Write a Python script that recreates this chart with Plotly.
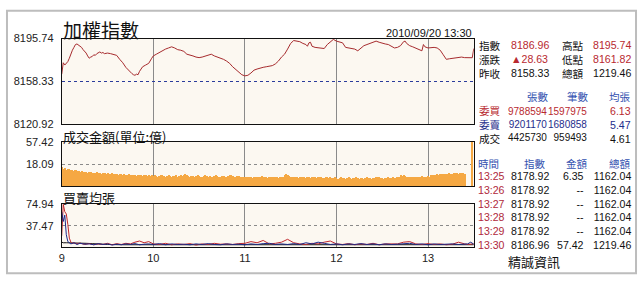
import plotly.graph_objects as go

# ---------------- data ----------------
TITLE = "加權指數"
DATE_TEXT = "2010/09/20 13:30"
VOL_TITLE = "成交金額(單位:億)"
AVG_TITLE = "買賣均張"
SOURCE = "精誠資訊"

PREV_CLOSE = 8158.33
IDX_AXIS = [8120.92, 8158.33, 8195.74]

# index: minutes after 09:00 and value
IDX_MIN = [0, 1, 2, 3, 4, 5, 6, 7, 8, 9, 10, 11, 12, 13, 14, 15, 16, 17, 18, 19,
           20, 21, 22, 23, 24, 25, 26, 27, 28, 30, 32, 34, 36, 38, 40, 42, 44, 46, 47, 48,
           49, 50, 51, 53, 55, 57, 59, 60, 62, 64, 66, 68, 70, 72, 74, 76, 78, 80, 82, 84,
           86, 88, 90, 92, 94, 96, 98, 100, 102, 104, 106, 108, 110, 112, 114, 116, 118, 120, 122, 124,
           126, 128, 130, 132, 134, 136, 138, 140, 142, 144, 146, 148, 150, 152, 154, 156, 158, 160, 161, 162,
           163, 164, 166, 168, 170, 172, 174, 176, 178, 180, 182, 184, 186, 188, 190, 192, 194, 196, 198, 200,
           202, 204, 206, 208, 210, 212, 214, 216, 218, 220, 222, 224, 225, 226, 228, 230, 232, 234, 236, 237,
           238, 240, 242, 244, 246, 248, 250, 252, 254, 256, 258, 260, 262, 264, 265, 269, 270]
IDX_VAL = [8164.5, 8174.5, 8172.5, 8174.0, 8175.5, 8178.5, 8182.5, 8185.5, 8188.0, 8190.5,
           8191.0, 8190.0, 8189.5, 8188.0, 8186.0, 8184.5, 8183.0, 8180.5, 8178.5, 8179.5,
           8180.0, 8181.5, 8181.0, 8182.5, 8183.0, 8184.0, 8183.0, 8183.5, 8182.5, 8183.0,
           8182.5, 8182.0, 8181.0, 8177.5, 8174.5, 8170.5, 8167.5, 8165.0, 8164.0, 8163.5,
           8164.5, 8164.0, 8167.0, 8171.0, 8172.5, 8174.0, 8178.5, 8180.5, 8182.0, 8183.5,
           8185.5, 8186.5, 8187.5, 8188.5, 8187.5, 8186.0, 8185.5, 8184.5, 8182.0, 8181.5,
           8180.5, 8179.5, 8179.0, 8179.5, 8180.5, 8181.5, 8182.0, 8180.5, 8179.5, 8179.0,
           8177.5, 8176.0, 8174.0, 8171.0, 8168.5, 8166.0, 8164.0, 8163.0, 8163.5, 8165.5,
           8168.0, 8169.0, 8170.0, 8170.5, 8171.0, 8171.5, 8172.0, 8173.5, 8176.0, 8179.5,
           8182.0, 8186.5, 8191.5, 8194.0, 8193.5, 8193.0, 8191.5, 8190.5, 8189.0, 8192.0,
           8192.5, 8189.0, 8188.0, 8187.5, 8187.5, 8187.0, 8190.5, 8193.0, 8195.0, 8193.5,
           8193.0, 8192.0, 8188.0, 8187.5, 8186.5, 8186.5, 8185.0, 8187.5, 8189.5, 8190.5,
           8191.5, 8192.5, 8193.5, 8192.5, 8191.5, 8191.0, 8190.5, 8189.0, 8187.5, 8188.0,
           8189.5, 8193.0, 8193.5, 8191.5, 8189.5, 8188.5, 8187.5, 8186.5, 8185.0, 8190.5,
           8188.5, 8187.5, 8188.0, 8188.0, 8187.5, 8185.5, 8181.5, 8177.5, 8178.0, 8178.5,
           8179.0, 8179.0, 8179.5, 8179.0, 8178.92, 8178.92, 8186.96]

# trade amount (億) per minute from 09:00 (minute index = position) up to 13:25
VOL_PER_MIN = [33,
    14, 12, 12.5, 11, 12, 11.5, 10.5, 11, 10, 10.5, 9.5, 10, 9, 9.5,
    9, 8.5, 9, 8, 8.5, 9, 8, 7.5, 8, 8.5, 7.5, 8, 7, 7.5, 8, 7, 7.5, 6.5, 7, 7.5, 6.5, 7, 6.5, 6, 6.5, 7,
    6, 6.5, 5.5, 6, 6.5, 5.5, 6, 5.5, 6, 5, 5.5, 6, 5.5, 5, 5.5, 6, 5, 5.5, 5, 5.5,
    5, 5.5, 5, 4.5, 5, 5.5, 6, 5, 4.5, 5, 5.5, 5, 4.5, 5, 5, 5.5, 4.5, 5, 5.5, 5,
    6, 6.5, 5.5, 5, 4.5, 5, 5, 4.5, 5, 5.5, 5, 4.5, 4.5, 5, 5.5, 5, 4.5, 5, 4.5, 4.5,
    5, 5.5, 5, 4.5, 4.5, 5, 5, 4.5, 4.5, 5, 5.5, 6, 5, 4.5, 4.5, 5, 5, 4.5,
    4.5, 4, 4.5, 4, 4, 4.5, 4, 3.5, 4, 4.5, 4, 4, 4.5, 5, 4.5, 4, 4, 3.5, 4, 4.5,
    4, 4.5, 4, 4, 3.5, 4, 4.5, 4, 5.5, 6.5, 6, 5, 4.5, 4, 4, 4.5, 4, 3.5, 4, 4,
    4.5, 4, 3.5, 4, 4, 3.5, 4, 4.5, 4, 3.5, 4, 4.5, 4, 3.5, 3.5, 4, 4, 3.5, 4,
    3.5, 3.5, 4, 3.5, 3, 3.5, 4, 3.5, 3.5, 3, 3.5, 4, 3.5, 3, 3.5, 3.5, 4, 3.5, 3, 3.5,
    3.5, 3, 3.5, 4, 3.5, 3.5, 3, 3.5, 3.5, 4, 4.5, 4, 3.5, 3.5, 3, 3.5, 3.5, 4, 3.5, 3.5,
    4, 3.5, 3.5, 4, 4.5,
    5.5, 5, 6, 5, 4.5, 4, 4.5, 4, 4.5, 4, 4, 4.5, 4, 4.5, 5, 4.5, 4, 4.5, 5, 4.5,
    5.5, 6, 5.5, 6, 6.5, 6, 6.5, 7, 6.5, 7, 6.5, 7, 7.5, 7, 7, 7.5, 8, 7.5, 7, 7.5, 8, 7.5, 6.35]
VOL_CLOSE_MIN = 270
VOL_CLOSE = 57.42
VOL_TICKS = [18.09, 57.42]
VOL_POWER = 0.6   # display scale of the amount panel

AVG_TICKS = [37.47, 74.94]
BUY_MIN = [0, 1, 2, 3, 4, 5, 6, 7, 8, 10, 12, 15, 18, 21, 24, 27, 30, 33, 36, 39,
           42, 45, 48, 51, 54, 57, 60, 64, 68, 72, 76, 80, 84, 88, 92, 96, 100, 104, 108, 112,
           116, 120, 124, 128, 132, 136, 140, 144, 148, 152, 156, 160, 164, 168, 172, 176, 180, 184, 188, 192,
           196, 200, 204, 208, 212, 216, 220, 224, 228, 232, 236, 240, 244, 248, 252, 256, 260, 264, 266, 270]
BUY_VAL = [20, 74.94, 62, 58, 40, 16, 9, 7, 8, 6, 7.5, 5, 6.5, 4.5, 6, 5, 7, 4.5, 6.5, 5,
           7, 6, 9, 11, 8, 10, 6, 5, 7, 4.5, 6, 5, 6.5, 4, 6, 5, 7, 5.5, 6, 5,
           6.5, 7, 10, 8, 12, 6, 7, 9, 14, 8, 6, 5, 7, 6, 9, 11, 6, 5, 6.5, 4.5,
           6, 5, 7, 4.5, 6, 5.5, 6, 9, 10, 6, 5, 6.5, 5, 6, 4.5, 5.5, 9, 6, 5, 6.13]
SELL_MIN = [0, 1, 2, 3, 4, 5, 6, 8, 10, 12, 15, 18, 21, 24, 27, 30, 33, 36, 39, 42,
            45, 48, 51, 54, 57, 60, 64, 68, 72, 76, 80, 84, 88, 92, 96, 100, 104, 108, 112, 116,
            120, 124, 128, 132, 136, 140, 144, 148, 152, 156, 160, 164, 168, 172, 176, 180, 184, 188, 192, 196,
            200, 204, 208, 212, 216, 220, 224, 228, 232, 236, 240, 244, 248, 252, 256, 260, 264, 266, 268, 270]
SELL_VAL = [62, 45, 56, 22, 10, 8, 6, 8, 5, 7, 5.5, 6, 4.5, 6.5, 5, 6, 4, 5.5, 4.5, 6,
            5, 6.5, 4.5, 5.5, 6, 5, 6.5, 4.5, 6, 5, 5.5, 4.5, 6, 5, 6.5, 5, 4.5, 6, 5, 5.5,
            4.5, 6, 5, 6.5, 7, 5, 6, 5, 6.5, 5, 8, 6, 9, 7, 5, 6, 4.5, 6, 5, 6.5,
            5, 6, 4.5, 6, 5, 5.5, 6, 7, 5, 6, 4.5, 6, 5, 5.5, 6, 5, 5.5, 6, 9, 5.47]
DEAL_MIN = [0, 1, 3, 5, 8, 12, 16, 20, 25, 30, 40, 50, 60, 75, 90, 105, 120, 135, 150, 165,
            180, 195, 210, 225, 240, 255, 265, 270]
DEAL_VAL = [9, 8, 8, 8, 7.5, 7.5, 7, 6.5, 5.5, 5, 4.5, 4.5, 4, 4.5, 4, 4, 4.5, 4, 4.5, 4,
            4, 4.5, 4, 4, 4.5, 4, 4.5, 4.61]

HOUR_TICKS = [9, 10, 11, 12, 13]

# right-hand quote panel
RED, NAVY, BLACK, BLUE = "#B8292F", "#1E2E8C", "#111111", "#3452B0"
QUOTE_LAB1 = ["指數", "漲跌", "昨收"]
QUOTE_VAL1 = ["8186.96", "▲28.63", "8158.33"]
QUOTE_COL1 = [RED, RED, BLACK]
QUOTE_LAB2 = ["高點", "低點", "總額"]
QUOTE_VAL2 = ["8195.74", "8161.82", "1219.46"]
QUOTE_COL2 = [RED, RED, BLACK]

ORDER_HEAD = ["張數", "筆數", "均張"]
ORDER_LAB = ["委買", "委賣", "成交"]
ORDER_LOTS = ["9788594", "9201170", "4425730"]
ORDER_CNT = ["1597975", "1680858", "959493"]
ORDER_AVG = ["6.13", "5.47", "4.61"]
ORDER_COL = [RED, NAVY, BLACK]

TICK_HEAD = ["時間", "指數", "金額", "總額"]
TICK_TIME = ["13:25", "13:26", "13:27", "13:28", "13:29", "13:30"]
TICK_IDX = ["8178.92", "8178.92", "8178.92", "8178.92", "8178.92", "8186.96"]
TICK_AMT = ["6.35", "--", "--", "--", "--", "57.42"]
TICK_TOT = ["1162.04", "1162.04", "1162.04", "1162.04", "1162.04", "1219.46"]

# ---------------- figure ----------------
W, H = 640, 284
NUM_FONT = "Liberation Sans"
CJK_FONT = "Noto Sans CJK TC"
BG = "#FCF8F1"


def hrs(mins):
    return [9 + m / 60 for m in mins]


def px(x, y):
    return x / W, 1 - y / H


fig = go.Figure()

fig.add_trace(go.Scatter(x=hrs(IDX_MIN), y=IDX_VAL, mode="lines",
                         line=dict(color="#A62B2E", width=1), xaxis="x", yaxis="y",
                         hoverinfo="skip"))

vol_min = list(range(len(VOL_PER_MIN))) + [VOL_CLOSE_MIN]
vol_val = VOL_PER_MIN + [VOL_CLOSE]
fig.add_trace(go.Bar(x=hrs(vol_min), y=[v ** VOL_POWER for v in vol_val],
                     width=1 / 60, offset=-1.5 / 60,
                     marker=dict(color="#F5A843", line=dict(width=0)),
                     xaxis="x2", yaxis="y2", hoverinfo="skip"))

fig.add_trace(go.Scatter(x=hrs(DEAL_MIN), y=DEAL_VAL, mode="lines",
                         line=dict(color="#111111", width=1), xaxis="x3", yaxis="y3"))
fig.add_trace(go.Scatter(x=hrs(BUY_MIN), y=BUY_VAL, mode="lines",
                         line=dict(color="#C0282C", width=1), xaxis="x3", yaxis="y3"))
fig.add_trace(go.Scatter(x=hrs(SELL_MIN), y=SELL_VAL, mode="lines",
                         line=dict(color="#1C2A8A", width=1), xaxis="x3", yaxis="y3"))

xdom = [59 / W, 473 / W]
xcommon = dict(range=[9, 13.5], domain=xdom, tickvals=HOUR_TICKS, showgrid=True,
               gridcolor="#8A8A8A", gridwidth=1, showline=True, mirror=True,
               linecolor="#111111", linewidth=1, zeroline=False, ticks="",
               fixedrange=True)
ycommon = dict(showline=True, mirror=True, linecolor="#111111", linewidth=1,
               zeroline=False, ticks="", showgrid=True, griddash="dot",
               tickfont=dict(family=NUM_FONT, size=11, color="#222222"),
               ticklabelstandoff=5, fixedrange=True)

vt = [v ** VOL_POWER for v in VOL_TICKS]
fig.update_layout(
    width=W, height=H, autosize=False,
    margin=dict(l=0, r=0, t=0, b=0),
    paper_bgcolor="white", plot_bgcolor=BG,
    showlegend=False, bargap=0,
    xaxis=dict(xcommon, anchor="y", showticklabels=False),
    xaxis2=dict(xcommon, anchor="y2", showticklabels=False),
    xaxis3=dict(xcommon, anchor="y3", showticklabels=True,
                ticktext=[str(h) for h in HOUR_TICKS],
                tickfont=dict(family=NUM_FONT, size=11, color="#222222")),
    yaxis=dict(ycommon, anchor="x", domain=[1 - 123 / H, 1 - 34 / H],
               range=[IDX_AXIS[0], IDX_AXIS[2]], tickvals=IDX_AXIS,
               ticktext=[f"{v:.2f}" for v in IDX_AXIS], gridcolor="#2B3C9C"),
    yaxis2=dict(ycommon, anchor="x2", domain=[1 - 188 / H, 1 - 142 / H],
                range=[0, vt[-1]], tickvals=vt,
                ticktext=[f"{v:.2f}" for v in VOL_TICKS], gridcolor="#8A8A8A"),
    yaxis3=dict(ycommon, anchor="x3", domain=[1 - 252 / H, 1 - 207 / H],
                range=[0, AVG_TICKS[-1]], tickvals=AVG_TICKS,
                ticktext=[f"{v:.2f}" for v in AVG_TICKS], gridcolor="#8A8A8A"),
)

# outer frame
fig.add_shape(type="rect", xref="paper", yref="paper",
              x0=4 / W, x1=636 / W, y0=1 - 279 / H, y1=1 - 5 / H,
              line=dict(color="#BDBDBD", width=2), layer="below")

ann = []


def txt(x, y, s, color=BLACK, size=11, anchor="left", family=NUM_FONT):
    ax, ay = px(x, y)
    ann.append(dict(x=ax, y=ay, xref="paper", yref="paper", text=s, showarrow=False,
                    xanchor=anchor, yanchor="middle", borderpad=0,
                    font=dict(family=family, size=size, color=color)))


def col(x, ymid, lines, colors, size, anchor="left", family=NUM_FONT):
    body = "<br>".join(f'<span style="color:{c}">{s}</span>' for s, c in zip(lines, colors))
    ax, ay = px(x, ymid)
    ann.append(dict(x=ax, y=ay, xref="paper", yref="paper", text=body, showarrow=False,
                    xanchor=anchor, yanchor="middle", align=anchor, borderpad=0,
                    font=dict(family=family, size=size, color=BLACK)))


txt(59, 25, TITLE, size=19, family=CJK_FONT)
txt(472, 28, DATE_TEXT, size=11, anchor="right")
txt(59, 136, VOL_TITLE, size=13, family=CJK_FONT)
txt(59, 200, AVG_TITLE, size=13, family=CJK_FONT)

OS = 10.6
# quote block (rows ~42, 55, 69)
col(477, 55.5, QUOTE_LAB1, [BLACK] * 3, OS, family=CJK_FONT)
col(509, 55.5, QUOTE_VAL1, QUOTE_COL1, OS)
col(561, 55.5, QUOTE_LAB2, [BLACK] * 3, OS, family=CJK_FONT)
col(592, 55.5, QUOTE_VAL2, QUOTE_COL2, OS)

# order block
HS = 10.5
for xh, h in zip([538, 578, 620], ORDER_HEAD):
    txt(xh, 95, h, color=BLUE, size=HS, anchor="center", family=CJK_FONT)
col(477, 123.8, ORDER_LAB, ORDER_COL, OS, family=CJK_FONT)
col(548, 123.8, ORDER_LOTS, ORDER_COL, 10, anchor="right")
col(588, 123.8, ORDER_CNT, ORDER_COL, 10, anchor="right")
col(632, 123.8, ORDER_AVG, ORDER_COL, OS, anchor="right")

# last ticks block
for xh, h in zip([488, 535, 577, 620], TICK_HEAD):
    txt(xh, 164.5, h, color=BLUE, size=HS, anchor="center", family=CJK_FONT)
TY = 179 + 2.5 * 13.8
col(476, TY, TICK_TIME, ["#B02A3C"] * 6, OS)
col(509, TY, TICK_IDX, [BLACK] * 6, OS)
col(585, TY, TICK_AMT, [BLACK] * 6, OS, anchor="right")
col(632, TY, TICK_TOT, [BLACK] * 6, OS, anchor="right")

txt(533, 267, SOURCE, size=13, anchor="center", family=CJK_FONT)

fig.update_layout(annotations=ann)
fig.write_html("out.html", config={"displayModeBar": False})
